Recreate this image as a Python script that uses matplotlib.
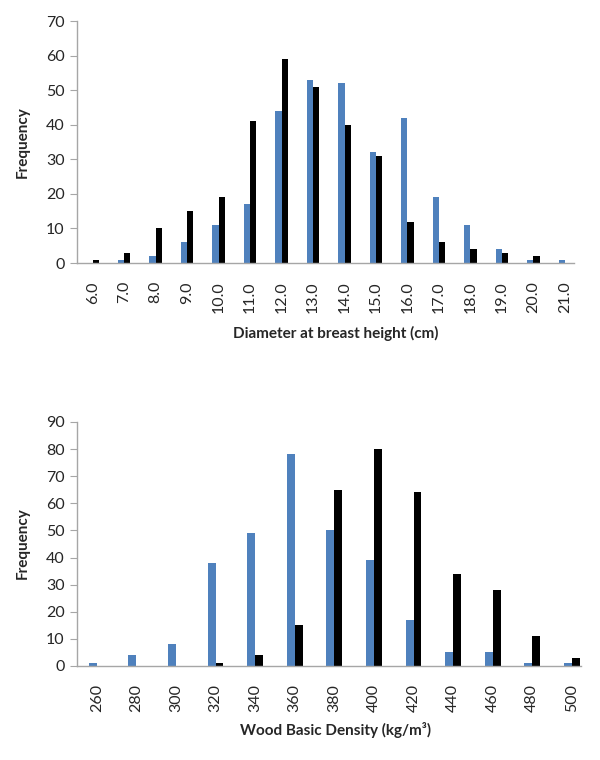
import numpy as np
import matplotlib
matplotlib.use("Agg")
import matplotlib.pyplot as plt

# DATA
dbh_labels = ["6.0", "7.0", "8.0", "9.0", "10.0", "11.0", "12.0", "13.0",
              "14.0", "15.0", "16.0", "17.0", "18.0", "19.0", "20.0", "21.0"]
dbh_blue  = [0, 1, 2, 6, 11, 17, 44, 53, 52, 32, 42, 19, 11, 4, 1, 1]
dbh_black = [1, 3, 10, 15, 19, 41, 59, 51, 40, 31, 12, 6, 4, 3, 2, 0]

dens_labels = ["260", "280", "300", "320", "340", "360", "380", "400",
               "420", "440", "460", "480", "500"]
dens_blue  = [1, 4, 8, 38, 49, 78, 50, 39, 17, 5, 5, 1, 1]
dens_black = [0, 0, 0, 1, 4, 15, 65, 80, 64, 34, 28, 11, 3]

BLUE = '#4F81BD'
AXIS_GREY = '#A6A6A6'
TXT = '#262626'

plt.rcParams['font.family'] = ['Lato', 'DejaVu Sans']

fig = plt.figure(figsize=(6, 7.6), dpi=100, facecolor='white')


def draw_panel(ax, labels, blue, black, ymax, xlabel, xlab_pos, ylab_pos, xright):
    x = np.arange(len(labels))
    w = 0.2
    ax.bar(x - w / 2, blue, width=w, color=BLUE, linewidth=0)
    ax.bar(x + w / 2, black, width=w, color='black', linewidth=0)
    ax.set_xlim(-0.5, len(labels) - 1 + xright)
    ax.set_ylim(0, ymax)
    ax.set_yticks(np.arange(0, ymax + 1, 10))
    ax.set_xticks(x)
    ax.set_xticklabels(labels, rotation=90, va='top', ha='center')
    for s in ['top', 'right']:
        ax.spines[s].set_visible(False)
    for s in ['left', 'bottom']:
        ax.spines[s].set_color(AXIS_GREY)
        ax.spines[s].set_linewidth(1.0)
    ax.tick_params(axis='y', direction='out', length=5, color=AXIS_GREY,
                   labelsize=11.5, labelcolor=TXT, pad=4)
    ax.tick_params(axis='x', length=0, labelsize=11.5, labelcolor=TXT, pad=13)
    ax.set_xlabel(xlabel, fontsize=11, fontweight='bold', color=TXT)
    ax.xaxis.set_label_coords(*xlab_pos)
    ax.xaxis.label.set_va('center')
    ax.set_ylabel("Frequency", fontsize=11, fontweight='bold', color=TXT)
    ax.yaxis.set_label_coords(*ylab_pos)
    ax.yaxis.label.set_va('center')


ax1 = fig.add_axes([0.1283, 0.6539, 0.8283, 0.3184])
draw_panel(ax1, dbh_labels, dbh_blue, dbh_black, 70,
           "Diameter at breast height (cm)", (0.521, -0.289), (-0.109, 0.5), 0.29)

ax2 = fig.add_axes([0.1283, 0.1237, 0.84, 0.3211])
draw_panel(ax2, dens_labels, dens_blue, dens_black, 90,
           "Wood Basic Density (kg/m³)", (0.514, -0.262), (-0.107, 0.504), 0.23)

fig.savefig("out.png", dpi=100, facecolor='white')
